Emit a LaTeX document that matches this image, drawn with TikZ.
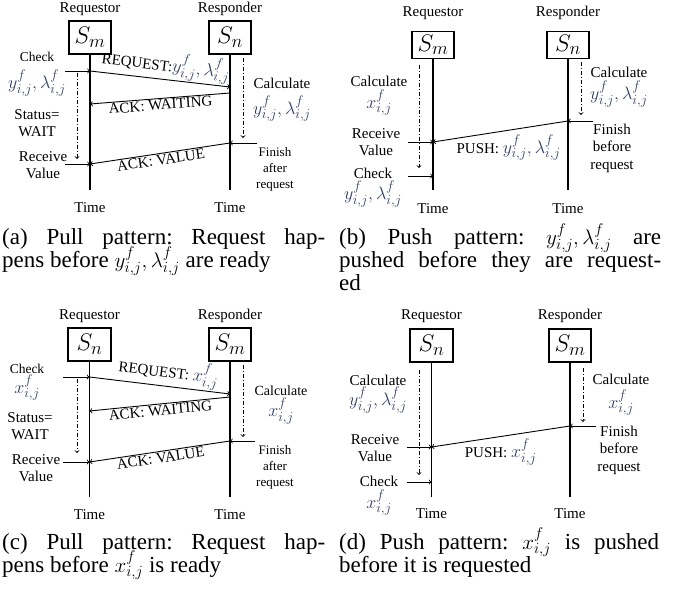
\RequirePackage{fix-cm}
\documentclass[tikz,border=0pt]{standalone}
\usepackage{fontspec}
\setmainfont{Liberation Serif}
\usepackage{xcolor}
\usepackage{tikz}
\usetikzlibrary{arrows, positioning}
\definecolor{mathblue}{RGB}{50,62,112}
\DeclareMathSizes{18}{18}{14}{11}
\DeclareMathSizes{21}{21}{15.5}{11.5}
\DeclareMathSizes{24}{24}{18.5}{14}
\newcommand{\fz}[2]{\fontsize{#1}{#2}\selectfont\lineskiplimit=-50pt}
\newcommand{\mv}[1]{{\fontsize{18}{17.5}\selectfont\textcolor{mathblue}{$#1$}}}
\newcommand{\capm}[1]{{\fontsize{21}{23}\selectfont$#1$}}
\newcommand{\yl}{\mv{y^f_{i,j},\lambda^f_{i,j}}}
\newcommand{\xv}{\mv{x^f_{i,j}}}
\newcommand{\chk}{\fontsize{13.5}{16}\selectfont}
\tolerance=10000 \hbadness=10000
\frenchspacing

\begin{document}
\begin{tikzpicture}[x=1pt, y=-1pt, >=to,
  every node/.style={inner sep=1pt, font=\fz{15}{17.5}, align=center},
  agent/.style={draw, line width=1.2pt, inner sep=0pt, minimum width=42pt, minimum height=33pt, font=\fontsize{24}{24}\selectfont},
  life/.style={line width=1.2pt},
  msg/.style={->, line width=0.9pt},
  work/.style={->, line width=0.9pt, dash pattern=on 4pt off 2pt on 1pt off 2pt},
  sml/.style={font=\fz{13}{16}},
  subcap/.style={anchor=base west, inner sep=0pt, text width=323pt, align=justify, font=\fz{23}{23}}]
\useasboundingbox (0,0) rectangle (673,591);

% (a) pull pattern, y and lambda
\node[agent] (aSm) at (90,37.5) {$S_m$};
\node[agent] (aSn) at (230,37.5) {$S_n$};
\node[above=3.5pt of aSm] (aReq) {Requestor};
\node[above=3.5pt of aSn] (aRes) {Responder};
\coordinate (aEm) at (90,190);
\coordinate (aEn) at (230,190);
\node[below=11pt of aEm] (aTm) {Time};
\node[below=11pt of aEn] (aTn) {Time};
\draw[life] (aSm) -- (aEm);
\draw[life] (aSn) -- (aEn);
\coordinate (aM1) at (90,71);
\coordinate (aM2) at (90,104);
\coordinate (aM3) at (90,164);
\coordinate (aN1) at (230,87);
\coordinate (aN2) at (230,93);
\coordinate (aN3) at (230,143);
\coordinate (aC) at (65,71);
\coordinate (aR) at (65,164);
\coordinate (aF) at (257,143);
\coordinate (aP1) at (77,73);
\coordinate (aP2) at (77,159);
\coordinate (aQ1) at (243,58);
\coordinate (aQ2) at (243,138);
\draw[msg] (aC) -- (aM1);
\draw[msg] (aM1) -- node[sloped, above, pos=.53] {REQUEST:\yl} (aN1);
\draw[msg] (aN2) -- node[sloped, below] {ACK: WAITING} (aM2);
\draw[msg] (aN3) -- node[sloped, below] {ACK: VALUE} (aM3);
\draw[msg] (aR) -- (aM3);
\draw[msg] (aF) -- (aN3);
\draw[work] (aP1) -- (aP2);
\draw[work] (aQ1) -- (aQ2);
\node (aChk) at (37,74) {{\chk Check}\\[10pt]\yl};
\node (aSta) at (37,123) {Status=\\WAIT};
\node (aRcv) at (43,165) {Receive\\Value};
\node (aCal) at (282,99.5) {Calculate\\[8.5pt]\yl};
\node[sml] (aFin) at (275,169) {Finish\\after\\request};

% (b) push pattern, y and lambda
\node[agent, minimum height=27pt] (bSm) at (433,45) {$S_m$};
\node[agent, minimum height=27pt] (bSn) at (568,45) {$S_n$};
\node[above=10pt of bSm] (bReq) {Requestor};
\node[above=10pt of bSn] (bRes) {Responder};
\coordinate (bEm) at (433,190);
\coordinate (bEn) at (568,190);
\node[below=12pt of bEm] (bTm) {Time};
\node[below=12pt of bEn] (bTn) {Time};
\draw[life] (bSm) -- (bEm);
\draw[life] (bSn) -- (bEn);
\coordinate (bM1) at (433,142);
\coordinate (bM2) at (433,176);
\coordinate (bN1) at (568,121);
\coordinate (bR) at (408,142);
\coordinate (bK) at (408,176);
\coordinate (bF) at (593,121);
\coordinate (bP1) at (419,65);
\coordinate (bP2) at (419,168);
\coordinate (bQ1) at (581,62);
\coordinate (bQ2) at (581,115);
\draw[msg] (bN1) -- node[pos=.44, below=3pt] {PUSH: \yl} (bM1);
\draw[msg] (bR) -- (bM1);
\draw[msg] (bK) -- (bM2);
\draw[msg] (bF) -- (bN1);
\draw[work] (bP1) -- (bP2);
\draw[work] (bQ1) -- (bQ2);
\node (bCal) at (379,95.5) {Calculate\\[4.5pt]\xv};
\node (bRcv) at (376,142) {Receive\\Value};
\node (bChk) at (373,187.5) {Check\\[3.5pt]\yl};
\node (bCac) at (619,87) {Calculate\\[4.5pt]\yl};
\node (bFin) at (612,148) {Finish\\before\\request};

% (c) pull pattern, x
\node[agent, minimum width=43pt] (cSn) at (89.5,344.5) {$S_n$};
\node[agent] (cSm) at (230,344.5) {$S_m$};
\node[above=4pt of cSn] (cReq) {Requestor};
\node[above=4pt of cSm] (cRes) {Responder};
\coordinate (cEn) at (89.5,497);
\coordinate (cEm) at (230,497);
\node[below=11pt of cEn] (cTn) {Time};
\node[below=11pt of cEm] (cTm) {Time};
\draw[life] (cSn) -- (cEn);
\draw[life] (cSm) -- (cEm);
\coordinate (cM1) at (89.5,377);
\coordinate (cM2) at (89.5,411);
\coordinate (cM3) at (89.5,462);
\coordinate (cN1) at (230,394);
\coordinate (cN2) at (230,397);
\coordinate (cN3) at (230,441);
\coordinate (cC) at (63,377);
\coordinate (cR) at (63,462);
\coordinate (cF) at (255,441);
\coordinate (cP1) at (77,379);
\coordinate (cP2) at (77,453);
\coordinate (cQ1) at (243,365);
\coordinate (cQ2) at (243,437);
\draw[msg] (cC) -- (cM1);
\draw[msg] (cM1) -- node[sloped, above, pos=.55] {REQUEST: \xv} (cN1);
\draw[msg] (cN2) -- node[sloped, below] {ACK: WAITING} (cM2);
\draw[msg] (cN3) -- node[sloped, below] {ACK: VALUE} (cM3);
\draw[msg] (cR) -- (cM3);
\draw[msg] (cF) -- (cN3);
\draw[work] (cP1) -- (cP2);
\draw[work] (cQ1) -- (cQ2);
\node (cChk) at (27,382) {{\chk Check}\\[2.5pt]\xv};
\node (cSta) at (30,426) {Status=\\WAIT};
\node (cRcv) at (36,468) {Receive\\Value};
\node[font=\fz{14}{17}] (cCal) at (281,405) {Calculate\\[4pt]\xv};
\node[sml] (cFin) at (275,467.5) {Finish\\after\\request};

% (d) push pattern, x
\node[agent, minimum width=43pt] (dSn) at (431.5,345.5) {$S_n$};
\node[agent] (dSm) at (570,345.5) {$S_m$};
\node[above=5pt of dSn] (dReq) {Requestor};
\node[above=5pt of dSm] (dRes) {Responder};
\coordinate (dEn) at (431.5,497);
\coordinate (dEm) at (570,497);
\node[below=10pt of dEn] (dTn) {Time};
\node[below=10pt of dEm] (dTm) {Time};
\draw[life] (dSn) -- (dEn);
\draw[life] (dSm) -- (dEm);
\coordinate (dM1) at (431.5,447);
\coordinate (dM2) at (431.5,482);
\coordinate (dN1) at (570,426);
\coordinate (dR) at (407,447);
\coordinate (dK) at (407,482);
\coordinate (dF) at (596,426);
\coordinate (dP1) at (419,370);
\coordinate (dP2) at (419,475);
\coordinate (dQ1) at (583,368);
\coordinate (dQ2) at (583,422);
\draw[msg] (dN1) -- node[pos=.5, below=1pt] {PUSH: \xv} (dM1);
\draw[msg] (dR) -- (dM1);
\draw[msg] (dK) -- (dM2);
\draw[msg] (dF) -- (dN1);
\draw[work] (dP1) -- (dP2);
\draw[work] (dQ1) -- (dQ2);
\node (dCal) at (378,394) {Calculate\\[3pt]\yl};
\node (dRcv) at (375,448) {Receive\\Value};
\node (dChk) at (379,495.5) {Check\\[4.5pt]\xv};
\node (dCac) at (621,395) {Calculate\\[6pt]\xv};
\node (dFin) at (619,450) {Finish\\before\\request};

% captions
\node[subcap] (aCap) at (2,245) {(a) Pull pattern: Request hap-\linebreak pens before \capm{y^f_{i,j},\lambda^f_{i,j}} are ready};
\node[subcap, text width=322pt] (bCap) at (339,245) {(b) Push pattern: \capm{y^f_{i,j},\lambda^f_{i,j}} are\linebreak pushed before they are request-\linebreak ed};
\node[subcap] (cCap) at (2,549) {(c) Pull pattern: Request hap-\linebreak pens before \capm{x^f_{i,j}} is ready};
\node[subcap, text width=320pt] (dCap) at (339,549) {(d) Push pattern: \capm{x^f_{i,j}} is pushed\linebreak before it is requested};
\end{tikzpicture}
\end{document}
